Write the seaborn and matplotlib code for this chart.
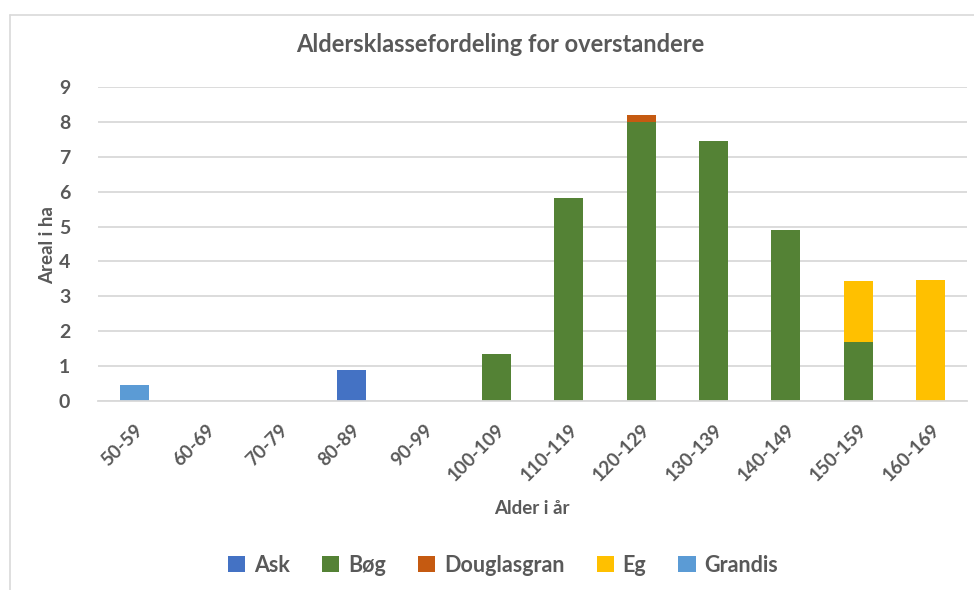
import numpy as np
import pandas as pd
import matplotlib
matplotlib.use("Agg")
import matplotlib.pyplot as plt
from matplotlib.lines import Line2D
import seaborn as sns

# aldersklasser og areal (ha) per treslag
klasser = ["50-59", "60-69", "70-79", "80-89", "90-99", "100-109",
           "110-119", "120-129", "130-139", "140-149", "150-159", "160-169"]
ask = [0, 0, 0, 0.89, 0, 0, 0, 0, 0, 0, 0, 0]
bog = [0, 0, 0, 0, 0, 1.36, 5.81, 7.99, 7.45, 4.89, 1.70, 0]
douglasgran = [0, 0, 0, 0, 0, 0, 0, 0.22, 0, 0, 0, 0]
eg = [0, 0, 0, 0, 0, 0, 0, 0, 0, 0, 1.73, 3.48]
grandis = [0.47, 0, 0, 0, 0, 0, 0, 0, 0, 0, 0, 0]

treslag = ["Ask", "Bøg", "Douglasgran", "Eg", "Grandis"]
serier = [ask, bog, douglasgran, eg, grandis]
farger = ["#4472C4", "#548235", "#C55A11", "#FFC000", "#5B9BD5"]

sns.set_theme(style="white")
plt.rcParams['font.family'] = ['Lato', 'DejaVu Sans']
plt.rcParams['font.weight'] = 'bold'
tekst = "#595959"
grid = "#d9d9d9"

fig = plt.figure(figsize=(9.74, 5.90), dpi=100)
ax = fig.add_axes([98 / 974, 1 - 401 / 590, (967 - 98) / 974, (401 - 87) / 590])

# stablede søyler
bunn = np.zeros(len(klasser))
for navn, verdier, farge in zip(treslag, serier, farger):
    df = pd.DataFrame({"Alder": klasser, "Areal": verdier})
    sns.barplot(data=df, x="Alder", y="Areal", order=klasser, color=farge,
                bottom=bunn, width=0.4, linewidth=0, label=navn, ax=ax,
                errorbar=None, saturation=1)
    bunn = bunn + np.array(verdier)

ax.set_ylim(0, 9)
ax.set_xlim(-0.5, len(klasser) - 0.5)
ax.set_yticks(range(0, 10))
ax.yaxis.grid(True, color=grid, linewidth=1.3)
ax.set_axisbelow(True)
for s in ["top", "right", "left"]:
    ax.spines[s].set_visible(False)
ax.spines["bottom"].set_color(grid)
ax.spines["bottom"].set_linewidth(1.3)
ax.tick_params(axis="y", length=0, pad=20, labelsize=14, labelcolor=tekst)
ax.tick_params(axis="x", length=0, pad=14.5, labelsize=13.5, labelcolor=tekst)
for lab in ax.get_xticklabels():
    lab.set_rotation(45)
    lab.set_ha("right")
    lab.set_rotation_mode("anchor")
    lab.set_fontweight("bold")
for lab in ax.get_yticklabels():
    lab.set_fontweight("bold")

ax.set_xlabel("")
ax.set_ylabel("")
fig.text(48 / 974, 1 - 245 / 590, "Areal i ha", rotation=90, ha="center", va="center",
         fontsize=13.5, fontweight="bold", color=tekst)
fig.text(532 / 974, 1 - 508 / 590, "Alder i år", ha="center", va="center",
         fontsize=13.5, fontweight="bold", color=tekst)
fig.text(500 / 974, 1 - 45 / 590, "Aldersklassefordeling for overstandere",
         ha="center", va="center", fontsize=17, fontweight="bold", color=tekst)

leg = ax.legend(loc="center", bbox_to_anchor=(503 / 974, 1 - 565 / 590),
                bbox_transform=fig.transFigure, ncol=5, frameon=False,
                handlelength=0.8, handleheight=0.8, handletextpad=0.4,
                columnspacing=1.5, prop={"size": 15.5, "weight": "bold"})
for t in leg.get_texts():
    t.set_color(tekst)

# diagramramme
fig.add_artist(Line2D([10 / 974, 10 / 974], [0, 1 - 15 / 590], transform=fig.transFigure,
                      color=grid, linewidth=1.2))
fig.add_artist(Line2D([10 / 974, 1], [1 - 15 / 590, 1 - 15 / 590], transform=fig.transFigure,
                      color=grid, linewidth=1.2))

fig.savefig("out.png", dpi=100)
